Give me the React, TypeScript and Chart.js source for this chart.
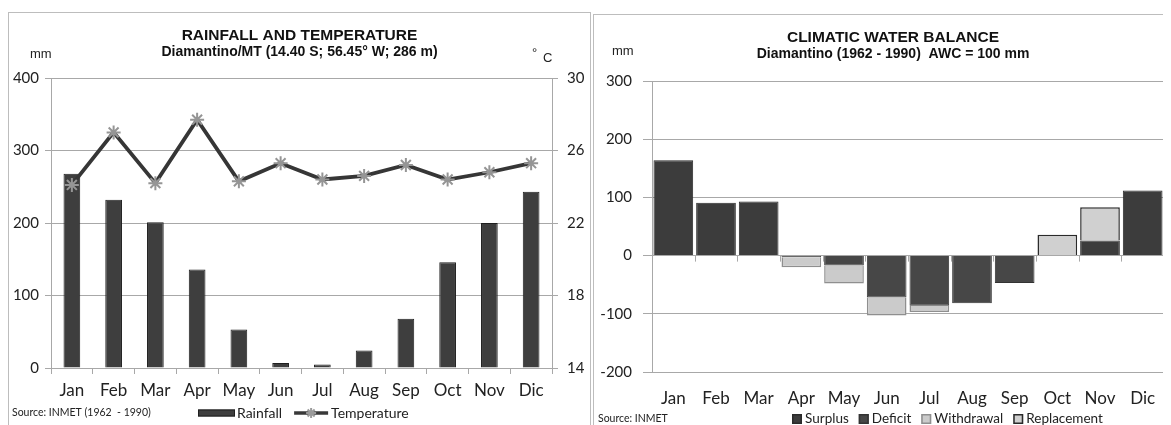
import React, { useEffect, useRef } from 'react';
import { Chart, registerables } from 'chart.js';
Chart.register(...registerables);

const months = ['Jan', 'Feb', 'Mar', 'Apr', 'May', 'Jun', 'Jul', 'Aug', 'Sep', 'Oct', 'Nov', 'Dic'];
const rainfall = [268, 232, 201, 136, 53, 7, 5, 24, 68, 146, 200, 243];
const temperature = [24.1, 27.0, 24.2, 27.7, 24.3, 25.3, 24.4, 24.6, 25.2, 24.4, 24.8, 25.3];
const rainTicks = [0, 100, 200, 300, 400];
const tempTicks = [14, 18, 22, 26, 30];

const surplus = [164, 91, 93, null, null, null, null, null, null, null, 26, 112];
const deficit = [null, null, null, -3, -17, -72, -86, -82, -47, null, null, null];
const withdrawal = [null, null, null, -17, -31, -31, -11, null, null, null, null, null];
const replacement = [null, null, null, null, null, null, null, null, null, 36, 57, null];
const balanceTicks = [-200, -100, 0, 100, 200, 300];

const Y_FONT = { family: 'Lato, "Open Sans", sans-serif', size: 15 };
const X_FONT = { family: 'Lato, "Open Sans", sans-serif', size: 17 };
const TITLE_FONT = { family: '"Liberation Sans", Arial, sans-serif', size: 15.5, weight: 'bold' as const, lineHeight: 1 };
const SUB_FONT = { family: '"Liberation Sans", Arial, sans-serif', size: 14, weight: 'bold' as const, lineHeight: 1 };
const GRID = '#a8a8a8';

function drawStar(ctx: CanvasRenderingContext2D, x: number, y: number, r: number) {
  ctx.beginPath();
  ctx.moveTo(x - r, y);
  ctx.lineTo(x + r, y);
  ctx.moveTo(x, y - r);
  ctx.lineTo(x, y + r);
  const d = r * Math.SQRT1_2;
  ctx.moveTo(x - d, y - d);
  ctx.lineTo(x + d, y + d);
  ctx.moveTo(x - d, y + d);
  ctx.lineTo(x + d, y - d);
  ctx.stroke();
}

function LeftChart() {
  const ref = useRef<HTMLCanvasElement>(null);
  useEffect(() => {
    const extras = {
      id: 'extrasLeft',
      afterDraw(chart: any) {
        const ctx = chart.ctx as CanvasRenderingContext2D;
        ctx.save();
        ctx.fillStyle = '#222';
        ctx.textBaseline = 'middle';
        ctx.font = '13px "Liberation Sans", Arial, sans-serif';
        ctx.fillText('mm', 21, 41);
        ctx.fillText('°', 523, 40);
        ctx.fillText('C', 534, 45);
        ctx.font = '10.5px Lato, sans-serif';
        ctx.fillText('Source: INMET (1962  - 1990)', 3, 400);
        let x = 189;
        const y = 400;
        ctx.fillStyle = '#3e3e3e';
        ctx.fillRect(x, y - 3.5, 37, 7);
        ctx.strokeStyle = '#1f1f1f';
        ctx.lineWidth = 1;
        ctx.strokeRect(x + 0.5, y - 3, 36, 6);
        x += 39;
        ctx.font = '14px Lato, sans-serif';
        ctx.fillStyle = '#222';
        ctx.fillText('Rainfall', x, y);
        x += ctx.measureText('Rainfall').width + 12;
        ctx.strokeStyle = '#383838';
        ctx.lineWidth = 3.5;
        ctx.beginPath();
        ctx.moveTo(x, y);
        ctx.lineTo(x + 34, y);
        ctx.stroke();
        ctx.strokeStyle = '#9b9b9b';
        ctx.lineWidth = 2;
        drawStar(ctx, x + 17, y, 5);
        x += 37;
        ctx.fillStyle = '#222';
        ctx.fillText('Temperature', x, y);
        ctx.restore();
      },
    };
    const chart = new Chart(ref.current!, {
      type: 'bar',
      data: {
        labels: months,
        datasets: [
          {
            type: 'line',
            label: 'Temperature',
            data: temperature,
            yAxisID: 'y1',
            borderColor: '#363636',
            borderWidth: 3.8,
            pointStyle: 'star',
            pointRadius: 7,
            pointBorderColor: '#959595',
            pointBackgroundColor: '#959595',
            pointBorderWidth: 2,
            tension: 0,
            order: 0,
          } as any,
          {
            type: 'bar',
            label: 'Rainfall',
            data: rainfall,
            yAxisID: 'y',
            backgroundColor: '#3e3e3e',
            borderColor: '#1f1f1f',
            borderWidth: 1,
            barPercentage: 0.4,
            categoryPercentage: 1,
            order: 1,
          },
        ],
      },
      options: {
        responsive: false,
        animation: false,
        layout: { padding: { top: 15, left: 0, right: 0, bottom: 0 } },
        plugins: {
          legend: { display: false },
          tooltip: { enabled: false },
          title: { display: true, text: 'RAINFALL AND TEMPERATURE', font: TITLE_FONT, color: '#111', padding: { top: 0, bottom: 0 } },
          subtitle: { display: true, text: 'Diamantino/MT (14.40 S; 56.45° W; 286 m)', font: SUB_FONT, color: '#111', padding: { top: 1.5, bottom: 19 } },
        },
        scales: {
          x: {
            grid: { display: true, drawOnChartArea: false, offset: true, tickLength: 6, color: GRID },
            border: { display: true, color: GRID },
            ticks: { font: X_FONT, color: '#222', padding: 6 },
            afterFit: (s: any) => { s.height = 63; },
          },
          y: {
            position: 'left',
            min: rainTicks[0],
            max: rainTicks[rainTicks.length - 1],
            ticks: { stepSize: rainTicks[1] - rainTicks[0], font: Y_FONT, color: '#222', padding: 6 },
            grid: { color: GRID, tickLength: 6 },
            border: { color: GRID },
            afterFit: (s: any) => { s.width = 42; },
          },
          y1: {
            position: 'right',
            min: tempTicks[0],
            max: tempTicks[tempTicks.length - 1],
            ticks: { stepSize: tempTicks[1] - tempTicks[0], font: Y_FONT, color: '#222', padding: 9 },
            grid: { drawOnChartArea: false, tickLength: 6, color: GRID },
            border: { color: GRID },
            afterFit: (s: any) => { s.width = 38; },
          },
        },
      },
      plugins: [extras],
    });
    return () => chart.destroy();
  }, []);
  return <canvas ref={ref} width={581} height={418} style={{ display: 'block' }} />;
}

function RightChart() {
  const ref = useRef<HTMLCanvasElement>(null);
  useEffect(() => {
    const extras = {
      id: 'extrasRight',
      beforeDatasetsDraw(chart: any) {
        const ctx = chart.ctx as CanvasRenderingContext2D;
        const xs = chart.scales.x;
        const y0 = chart.scales.y.getPixelForValue(0);
        const n = months.length;
        ctx.save();
        ctx.strokeStyle = GRID;
        ctx.lineWidth = 1;
        ctx.beginPath();
        for (let i = 0; i <= n; i++) {
          const px = Math.round(xs.left + (i * xs.width) / n) + 0.5;
          ctx.moveTo(px, y0);
          ctx.lineTo(px, y0 + 6);
        }
        ctx.stroke();
        ctx.restore();
      },
      afterDraw(chart: any) {
        const ctx = chart.ctx as CanvasRenderingContext2D;
        ctx.save();
        ctx.fillStyle = '#222';
        ctx.textBaseline = 'middle';
        ctx.font = '13px "Liberation Sans", Arial, sans-serif';
        ctx.fillText('mm', 18, 36);
        ctx.font = '10.5px Lato, sans-serif';
        ctx.fillText('Source: INMET', 4, 404);
        const items = [
          { t: 'Surplus', fill: '#3c3c3c', stroke: '#2a2a2a' },
          { t: 'Deficit', fill: '#474747', stroke: '#333' },
          { t: 'Withdrawal', fill: '#cbcbcb', stroke: '#8f8f8f' },
          { t: 'Replacement', fill: '#d0d0d0', stroke: '#2a2a2a' },
        ];
        let x = 198;
        const y = 404;
        ctx.font = '13.5px Lato, sans-serif';
        for (const it of items) {
          ctx.fillStyle = it.fill;
          ctx.fillRect(x, y - 5, 10, 10);
          ctx.strokeStyle = it.stroke;
          ctx.lineWidth = 1.5;
          ctx.strokeRect(x + 0.75, y - 4.25, 8.5, 8.5);
          ctx.fillStyle = '#222';
          ctx.fillText(it.t, x + 13, y);
          x += 13 + ctx.measureText(it.t).width + 10;
        }
        ctx.restore();
      },
    };
    const chart = new Chart(ref.current!, {
      type: 'bar',
      data: {
        labels: months,
        datasets: [
          { label: 'Surplus', data: surplus, backgroundColor: '#3c3c3c', borderColor: '#2a2a2a', borderWidth: 1 },
          { label: 'Deficit', data: deficit, backgroundColor: '#474747', borderColor: '#333333', borderWidth: 1 },
          { label: 'Withdrawal', data: withdrawal, backgroundColor: '#cbcbcb', borderColor: '#8f8f8f', borderWidth: 1.5 },
          { label: 'Replacement', data: replacement, backgroundColor: '#d0d0d0', borderColor: '#2a2a2a', borderWidth: 1.5 },
        ],
      },
      options: {
        responsive: false,
        animation: false,
        datasets: { bar: { barPercentage: 0.93, categoryPercentage: 1 } },
        layout: { padding: { top: 15, left: 0, right: 0, bottom: 0 } },
        plugins: {
          legend: { display: false },
          tooltip: { enabled: false },
          title: { display: true, text: 'CLIMATIC WATER BALANCE', font: TITLE_FONT, color: '#111', padding: { top: 0, bottom: 0 } },
          subtitle: { display: true, text: 'Diamantino (1962 - 1990)  AWC = 100 mm', font: SUB_FONT, color: '#111', padding: { top: 1.5, bottom: 20 } },
        },
        scales: {
          x: {
            stacked: true,
            grid: { display: false },
            border: { display: false },
            ticks: { font: X_FONT, color: '#222', padding: 8 },
            afterFit: (s: any) => { s.height = 61; },
          },
          y: {
            stacked: true,
            position: 'left',
            min: balanceTicks[0],
            max: balanceTicks[balanceTicks.length - 1],
            ticks: { stepSize: balanceTicks[1] - balanceTicks[0], font: Y_FONT, color: '#222', padding: 11 },
            grid: { color: GRID, tickLength: 9 },
            border: { color: GRID },
            afterFit: (s: any) => { s.width = 58; },
          },
          y2: {
            type: 'linear',
            position: 'right',
            display: true,
            grid: { display: false },
            border: { display: false },
            ticks: { display: false },
            afterFit: (s: any) => { s.width = 28; },
          },
        },
      },
      plugins: [extras],
    });
    return () => chart.destroy();
  }, []);
  return <canvas ref={ref} width={598} height={418} style={{ display: 'block' }} />;
}

export default function App() {
  return (
    <div style={{ position: 'relative', width: 1163, height: 417, overflow: 'hidden', background: '#fff' }}>
      <div style={{ position: 'absolute', left: 0, top: 4, width: 583, height: 420, border: '1px solid #bdbdbd', boxSizing: 'border-box' }}>
        <LeftChart />
      </div>
      <div style={{ position: 'absolute', left: 585, top: 6, width: 600, height: 420, border: '1px solid #bdbdbd', boxSizing: 'border-box' }}>
        <RightChart />
      </div>
    </div>
  );
}
